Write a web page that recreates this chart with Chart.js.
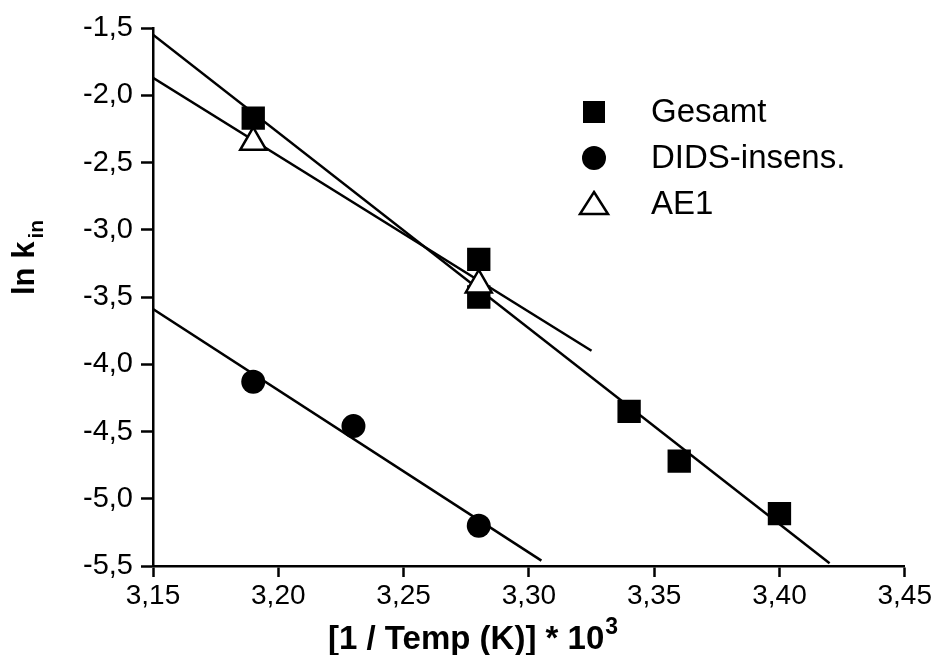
<!DOCTYPE html>
<html>
<head>
<meta charset="utf-8">
<script src="https://cdn.jsdelivr.net/npm/chart.js@4.4.0/dist/chart.umd.min.js"></script>
<style>
    html, body { margin: 0; padding: 0; background: #fff; }
    #wrap { width: 934px; height: 655px; position: relative; }
</style>
</head>
<body>
<div id="wrap"><canvas id="arrheniusChart"></canvas></div>
<script>
const gesamtX = [3.19, 3.28, 3.28, 3.34, 3.36, 3.40];
const gesamtY = [-2.17, -3.22, -3.50, -4.35, -4.72, -5.11];

const didsX = [3.19, 3.23, 3.28];
const didsY = [-4.13, -4.46, -5.20];

const ae1X = [3.19, 3.28];
const ae1Y = [-2.35, -3.41];

const gesamtFitX = [3.15, 3.42];
const gesamtFitY = [-1.55, -5.48];
const ae1FitX = [3.15, 3.325];
const ae1FitY = [-1.87, -3.90];
const didsFitX = [3.15, 3.305];
const didsFitY = [-3.59, -5.46];

const legendLabels = ['Gesamt', 'DIDS-insens.', 'AE1'];

const xMin = 3.15, xMax = 3.45, xStep = 0.05;
const yMin = -5.5, yMax = -1.5, yStep = 0.5;

function toPoints(xs, ys) {
    return xs.map((x, i) => ({ x: x, y: ys[i] }));
}

function fitLine(xs, ys) {
    return {
        type: 'line',
        data: toPoints(xs, ys),
        borderColor: '#000',
        borderWidth: 2.5,
        pointRadius: 0,
        fill: false,
        order: 5
    };
}

// Legende oben rechts im Plotbereich
const legendPlugin = {
    id: 'customLegend',
    afterDraw(chart) {
        const ctx = chart.ctx;
        const mx = 594, tx = 651;
        const rows = [112, 158, 204];
        ctx.save();
        ctx.fillStyle = '#000';
        ctx.strokeStyle = '#000';

        // Quadrat
        ctx.fillRect(mx - 11, rows[0] - 11, 22, 22);
        // Kreis
        ctx.beginPath();
        ctx.arc(mx, rows[1], 12, 0, Math.PI * 2);
        ctx.fill();
        // Dreieck
        ctx.beginPath();
        ctx.moveTo(mx, rows[2] - 12);
        ctx.lineTo(mx + 14, rows[2] + 10);
        ctx.lineTo(mx - 14, rows[2] + 10);
        ctx.closePath();
        ctx.fillStyle = '#fff';
        ctx.fill();
        ctx.lineWidth = 2.5;
        ctx.stroke();

        ctx.fillStyle = '#000';
        ctx.font = '33px "Liberation Sans", Arial, sans-serif';
        ctx.textBaseline = 'middle';
        ctx.textAlign = 'left';
        legendLabels.forEach((label, i) => {
            ctx.fillText(label, tx, rows[i] + 1);
        });
        ctx.restore();
    }
};

// Achsentitel mit Hoch-/Tiefstellung
const axisTitlePlugin = {
    id: 'axisTitles',
    afterDraw(chart) {
        const ctx = chart.ctx;
        ctx.save();
        ctx.fillStyle = '#000';
        ctx.textAlign = 'left';
        ctx.textBaseline = 'alphabetic';

        // x-Achse
        ctx.font = 'bold 33px "Liberation Sans", Arial, sans-serif';
        const xText = '[1 / Temp (K)] * 10';
        ctx.fillText(xText, 328, 649);
        const w = ctx.measureText(xText).width;
        ctx.font = 'bold 23px "Liberation Sans", Arial, sans-serif';
        ctx.fillText('3', 328 + w + 1, 634);

        // y-Achse
        ctx.translate(34, 295);
        ctx.rotate(-Math.PI / 2);
        ctx.font = 'bold 31px "Liberation Sans", Arial, sans-serif';
        ctx.fillText('ln k', 0, 0);
        const wy = ctx.measureText('ln k').width;
        ctx.font = 'bold 21px "Liberation Sans", Arial, sans-serif';
        ctx.fillText('in', wy + 3, 9);
        ctx.restore();
    }
};

const ctx = document.getElementById('arrheniusChart');

new Chart(ctx, {
    type: 'scatter',
    data: {
        datasets: [
            {
                label: 'AE1',
                data: toPoints(ae1X, ae1Y),
                pointStyle: 'triangle',
                pointRadius: 15,
                pointBackgroundColor: '#fff',
                pointBorderColor: '#000',
                pointBorderWidth: 2.5,
                order: 0
            },
            {
                label: 'Gesamt',
                data: toPoints(gesamtX, gesamtY),
                pointStyle: 'rect',
                pointRadius: 16.5,
                pointBackgroundColor: '#000',
                pointBorderColor: '#000',
                pointBorderWidth: 0,
                order: 1
            },
            {
                label: 'DIDS-insens.',
                data: toPoints(didsX, didsY),
                pointStyle: 'circle',
                pointRadius: 12,
                pointBackgroundColor: '#000',
                pointBorderColor: '#000',
                pointBorderWidth: 0,
                order: 2
            },
            fitLine(gesamtFitX, gesamtFitY),
            fitLine(ae1FitX, ae1FitY),
            fitLine(didsFitX, didsFitY)
        ]
    },
    options: {
        responsive: true,
        maintainAspectRatio: false,
        animation: false,
        events: [],
        layout: {
            padding: { top: 28, right: 21, left: 0, bottom: 0 }
        },
        plugins: {
            legend: { display: false },
            tooltip: { enabled: false }
        },
        scales: {
            x: {
                type: 'linear',
                min: xMin,
                max: xMax,
                border: { display: true, color: '#000', width: 2.5 },
                grid: {
                    drawOnChartArea: false,
                    drawTicks: true,
                    tickLength: 11,
                    tickWidth: 2.5,
                    tickColor: '#000'
                },
                ticks: {
                    stepSize: xStep,
                    color: '#000',
                    padding: 2,
                    maxRotation: 0,
                    font: { family: '"Liberation Sans", Arial, sans-serif', size: 28 },
                    callback: function(value) {
                        return value.toFixed(2).replace('.', ',');
                    }
                },
                afterFit: function(scale) {
                    scale.height = 89;
                }
            },
            y: {
                type: 'linear',
                min: yMin,
                max: yMax,
                border: { display: true, color: '#000', width: 2.5 },
                grid: {
                    drawOnChartArea: false,
                    drawTicks: true,
                    tickLength: 12,
                    tickWidth: 2.5,
                    tickColor: '#000'
                },
                ticks: {
                    stepSize: yStep,
                    color: '#000',
                    padding: 8,
                    font: { family: '"Liberation Sans", Arial, sans-serif', size: 29 },
                    callback: function(value) {
                        return value.toFixed(1).replace('.', ',');
                    }
                },
                afterFit: function(scale) {
                    scale.width = 153;
                }
            }
        }
    },
    plugins: [legendPlugin, axisTitlePlugin]
});
</script>
</body>
</html>
